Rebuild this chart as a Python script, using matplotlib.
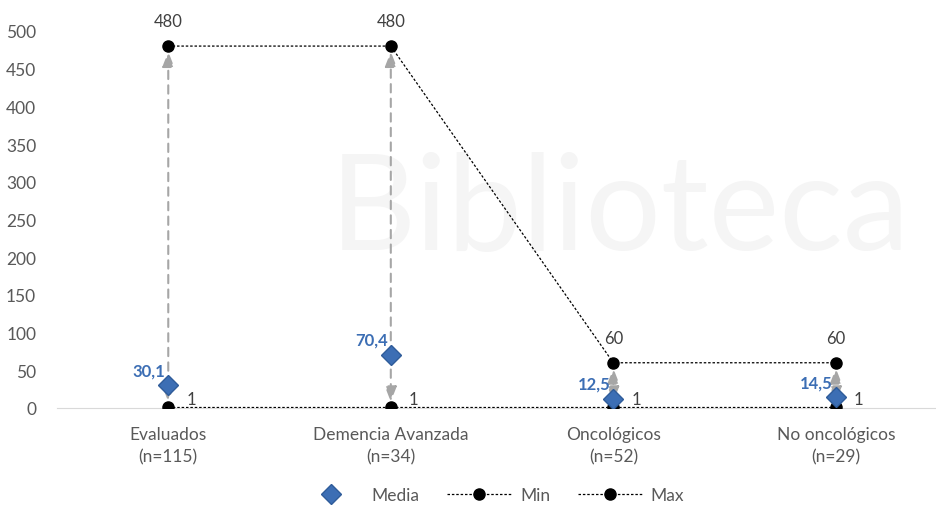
import matplotlib.pyplot as plt

# Datos: estancia (días) por grupo
categorias = ["Evaluados\n(n=115)", "Demencia Avanzada\n(n=34)",
              "Oncológicos\n(n=52)", "No oncológicos\n(n=29)"]
media = [30.1, 70.4, 12.5, 14.5]
minimo = [1, 1, 1, 1]
maximo = [480, 480, 60, 60]

plt.rcParams['font.family'] = ['Lato', 'DejaVu Sans']
gris = '#595959'
azul = '#3C6EB4'

fig = plt.figure(figsize=(9.36, 5.06), dpi=100)
ax = fig.add_axes([57 / 936, 97 / 506, 879 / 936, 377 / 506])
x = list(range(len(categorias)))

# Marca de agua de fondo, muy tenue
ax.text(0.64, 0.52, "Biblioteca", transform=ax.transAxes, fontsize=96,
        color='#F5F5F5', ha='center', va='center', zorder=0)

# Flechas discontinuas desde la media hasta el mínimo y el máximo
for xi, m, lo, hi in zip(x, media, minimo, maximo):
    for dest in (lo, hi):
        ax.annotate("", xy=(xi, dest), xytext=(xi, m),
                    arrowprops=dict(arrowstyle='-|>,head_length=0.9,head_width=0.35',
                                    color='#A6A6A6', lw=1.5, ls=(0, (4, 3)),
                                    shrinkA=0, shrinkB=4),
                    zorder=2)

ax.plot(x, minimo, ls=(0, (2, 1.5)), color='black', lw=0.9, marker='o',
        ms=8, zorder=3, label='Min')
ax.plot(x, maximo, ls=(0, (2, 1.5)), color='black', lw=0.9, marker='o',
        ms=8, zorder=3, label='Max')
ax.plot(x, media, ls='none', marker='D', ms=10, color=azul,
        markeredgecolor='#2F5C9A', zorder=4, label='Media')

# Etiquetas de valores
for xi, v in zip(x, maximo):
    ax.annotate(f"{v}", (xi, v), xytext=(0, 12), textcoords='offset points',
                ha='center', va='bottom', fontsize=12, color='#404040')
for xi, v in zip(x, minimo):
    ax.annotate(f"{v}", (xi, v), xytext=(13, 0), textcoords='offset points',
                ha='left', va='bottom', fontsize=12, color='#404040')
for xi, v in zip(x, media):
    ax.annotate(f"{v:.1f}".replace('.', ','), (xi, v), xytext=(-2, 5),
                textcoords='offset points', ha='right', va='bottom',
                fontsize=12, color=azul, weight='bold', zorder=5)

ax.set_xlim(-0.5, 3.45)
ax.set_ylim(0, 500)
ax.set_yticks(range(0, 501, 50))
ax.set_xticks(x)
ax.set_xticklabels(categorias, linespacing=1.5)
ax.tick_params(axis='both', length=0, labelsize=12.5, labelcolor=gris)
ax.tick_params(axis='x', pad=13)
ax.tick_params(axis='y', pad=15)
for lado in ('top', 'right', 'left'):
    ax.spines[lado].set_visible(False)
ax.spines['bottom'].set_color('#D9D9D9')
ax.spines['bottom'].set_zorder(1)

h, l = ax.get_legend_handles_labels()
orden = [2, 0, 1]
ley = fig.legend([h[i] for i in orden], [l[i] for i in orden], loc='center',
                 bbox_to_anchor=(0.525, 0.02), ncol=3, frameon=False,
                 fontsize=12.5, handlelength=3.7, columnspacing=1.6,
                 handletextpad=0.5)
for t in ley.get_texts():
    t.set_color(gris)

fig.savefig("out.png", dpi=100)
